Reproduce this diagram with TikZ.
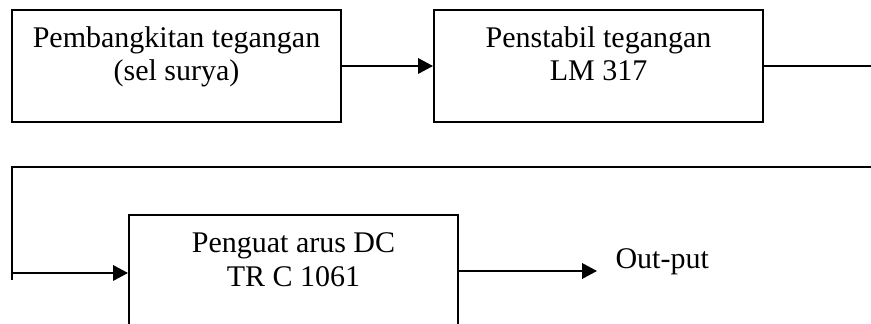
\documentclass[tikz,border=0pt]{standalone}
\usepackage{fontspec}
\setmainfont{Liberation Serif}
\usetikzlibrary{arrows.meta, positioning}

\begin{document}
\begin{tikzpicture}[x=0.4pt, y=-0.4pt, font=\fontsize{12}{13.2}\selectfont, line width=0.8pt,
    blok/.style={draw, minimum width=131.6pt, minimum height=44.8pt, align=center, inner sep=0pt,
      text height=22pt, text depth=10pt},
    panah/.style={-{Triangle[length=6pt, width=6.2pt]}}]
      \useasboundingbox (0,0) rectangle (871,324);
      \clip (0,0) rectangle (871,324);
      \node[blok] (b1) at (176.5,66) {Pembangkitan tegangan\\(sel surya)};
      \node[blok, right=36.4pt of b1] (b2) {Penstabil tegangan\\LM 317};
      \node[blok, below=36.4pt of b1, xshift=46.8pt] (b3) {Penguat arus DC\\TR C 1061};
      \node[anchor=base west, inner xsep=7pt, inner ysep=0pt] (out) at (597,269) {Out-put};
      % titik bantu di tepi halaman
      \coordinate (ka) at (871,66);
      \coordinate (kb) at (871,167);
      \coordinate (kc) at (12,280);
      \coordinate (kd) at (12,273);
      \draw[panah] (b1) -- (b2);
      \draw (b2.east) -- (ka);
      \draw (kb) -- (kb -| kc) -- (kc);
      \draw[panah] (kd) -- (kd -| b3.west);
      \draw[panah] (b3.east) -- (b3.east -| out.west);
    \end{tikzpicture}
\end{document}
